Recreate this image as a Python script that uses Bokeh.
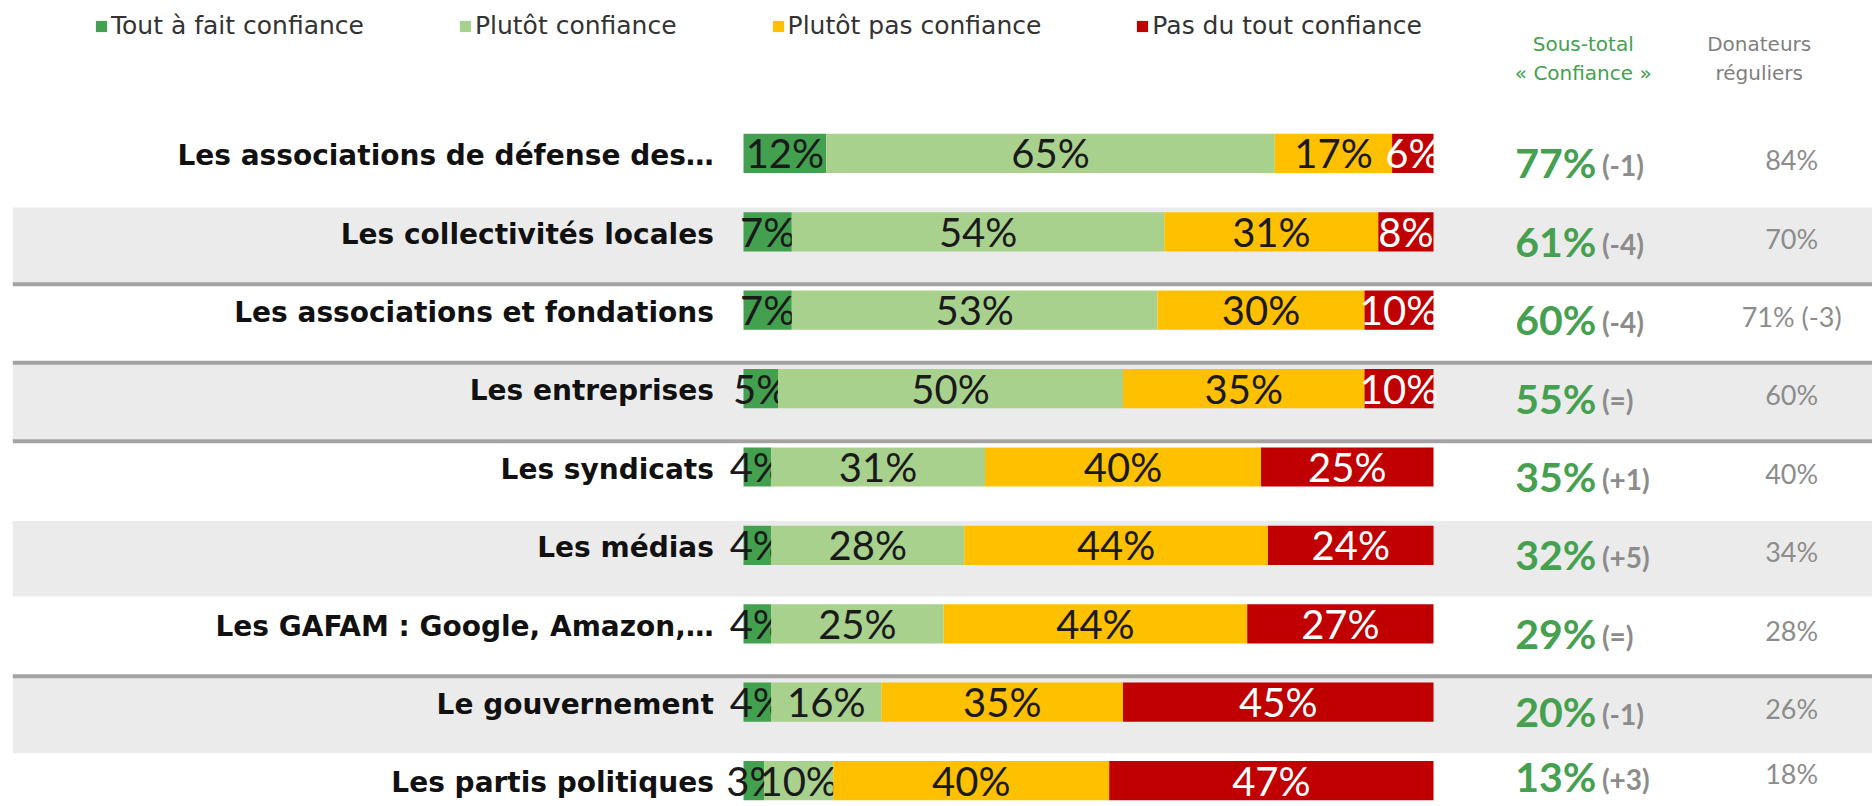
import numpy as np
from bokeh.plotting import figure
from bokeh.models import Range1d, ColumnDataSource, Legend, LegendItem
from bokeh.core.properties import value
from bokeh.embed import file_html
from bokeh.resources import INLINE

categories = [
    "Les associations de défense des…",
    "Les collectivités locales",
    "Les associations et fondations",
    "Les entreprises",
    "Les syndicats",
    "Les médias",
    "Les GAFAM : Google, Amazon,…",
    "Le gouvernement",
    "Les partis politiques",
]
series_names = ["Tout à fait confiance", "Plutôt confiance", "Plutôt pas confiance", "Pas du tout confiance"]
tout_a_fait = [12, 7, 7, 5, 4, 4, 4, 4, 3]
plutot = [65, 54, 53, 50, 31, 28, 25, 16, 10]
plutot_pas = [17, 31, 30, 35, 40, 44, 44, 35, 40]
pas_du_tout = [6, 8, 10, 10, 25, 24, 27, 45, 47]
sous_total = [77, 61, 60, 55, 35, 32, 29, 20, 13]
evolution = ["(-1)", "(-4)", "(-4)", "(=)", "(+1)", "(+5)", "(=)", "(-1)", "(+3)"]
donateurs = ["84%", "70%", "71% (-3)", "60%", "40%", "34%", "28%", "26%", "18%"]
header_total = ["Sous-total", "« Confiance »"]
header_donors = ["Donateurs", "réguliers"]

colors = ["#43a04f", "#a9d18e", "#ffc000", "#c00000"]
label_colors = ["#1a1a1a", "#1a1a1a", "#1a1a1a", "#ffffff"]
GREEN_TXT = "#45a04f"
GRAY_TXT = "#8c8c8c"
NUM_FONT = "Lato"
TXT_FONT = "DejaVu Sans"

n = len(categories)
rows = np.arange(n)
series = [tout_a_fait, plutot, plutot_pas, pas_du_tout]

p = figure(width=1872, height=806, output_backend="svg", toolbar_location=None,
           x_range=Range1d(-107.68, 163.62), y_range=Range1d(8.33, -1.95),
           min_border=0)
p.xaxis.visible = False
p.yaxis.visible = False
p.grid.visible = False
p.outline_line_color = None
p.background_fill_color = "white"
p.border_fill_color = "white"

# alternating bands
band_rows = [r for r in rows if r % 2 == 1]
p.hbar(y=[r + 0.17 for r in band_rows], left=-105.9, right=163.62, height=0.96,
       fill_color="#ebebeb", line_color=None)

# separator lines
sep_after = [1, 2, 3, 6]
p.segment(x0=-105.9, x1=163.62, y0=[r + 0.67 for r in sep_after], y1=[r + 0.67 for r in sep_after],
          line_color="#a3a3a3", line_width=4)

# stacked bars
left = np.zeros(n)
legend_items = []
for name, vals, col, lcol in zip(series_names, series, colors, label_colors):
    vals = np.array(vals, dtype=float)
    right = left + vals
    src = ColumnDataSource(dict(y=rows, left=left, right=right, mid=(left + right) / 2,
                                lab=[f"{int(v)}%" for v in vals]))
    r = p.hbar(y="y", left="left", right="right", height=0.5, source=src,
               fill_color=col, line_color=None)
    legend_items.append(LegendItem(label=name, renderers=[r]))
    p.text(x="mid", y="y", text="lab", source=src, text_align="center", text_baseline="middle",
           text_font=value(NUM_FONT), text_font_size="40px", text_color=lcol)
    left = right

# category labels
p.text(x=-4.3, y=rows + 0.03, text=categories, text_align="right", text_baseline="middle",
       text_font=value(TXT_FONT), text_font_size="28px", text_font_style="bold", text_color="#111111")

# subtotal column (kept inside the plot at the bottom)
y_right = np.minimum(rows + 0.12, 7.95)
p.text(x=123.6, y=y_right, text=[f"{v}%" for v in sous_total], text_align="right",
       text_baseline="middle", text_font=value(NUM_FONT), text_font_size="41px",
       text_font_style="bold", text_color=GREEN_TXT)
p.text(x=124.4, y=y_right + 0.03, text=evolution, text_align="left", text_baseline="middle",
       text_font=value(NUM_FONT), text_font_size="28px", text_font_style="bold", text_color=GRAY_TXT)

# donors column
p.text(x=151.9, y=y_right - 0.04, text=donateurs, text_align="center", text_baseline="middle",
       text_font=value(NUM_FONT), text_font_size="27px", text_color=GRAY_TXT)

# headers
p.text(x=121.7, y=[-1.39, -1.02], text=header_total, text_align="center", text_baseline="middle",
       text_font=value(TXT_FONT), text_font_size="20px", text_color=GREEN_TXT)
p.text(x=147.2, y=[-1.39, -1.02], text=header_donors, text_align="center", text_baseline="middle",
       text_font=value(TXT_FONT), text_font_size="20px", text_color="#7f7f7f")

legend = Legend(items=legend_items, orientation="horizontal", location=(94, 766),
                glyph_width=14, glyph_height=14, label_standoff=3, spacing=94,
                padding=0, margin=0, border_line_color=None, background_fill_alpha=0,
                label_text_font=TXT_FONT, label_text_font_size="25px", label_text_color="#333333",
                label_height=14)
p.add_layout(legend, "center")

open("out.html", "w").write(file_html(p, INLINE))
